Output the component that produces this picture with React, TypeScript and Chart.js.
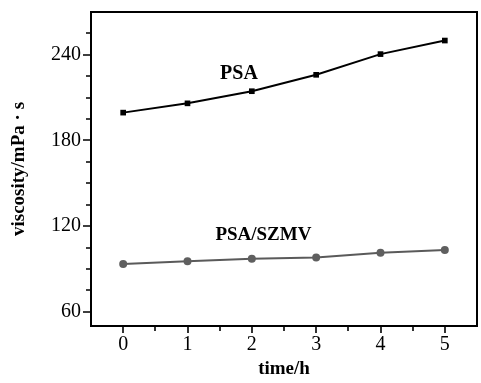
import React, { useEffect, useRef } from "react";
import { Chart, registerables } from "chart.js";

Chart.register(...registerables);

const times = [0, 1, 2, 3, 4, 5];
const psa = [199.5, 206, 214.5, 226, 240.5, 250];
const psaSzmv = [93.5, 95.3, 97.1, 98, 101.3, 103.2];
const seriesNames = ["PSA", "PSA/SZMV"];
const labelX = [1.8, 2.18];
const labelY = [227, 114];
const yTickValues = [60, 75, 90, 105, 120, 135, 150, 165, 180, 195, 210, 225, 240, 255];
const xTickValues = [0, 0.5, 1, 1.5, 2, 2.5, 3, 3.5, 4, 4.5, 5];

const SERIF = '"Liberation Serif", "Times New Roman", serif';

const framePlugin = {
  id: "frame",
  afterDraw(chart: any) {
    const { ctx, chartArea } = chart;
    const xs = chart.scales.x;
    const ys = chart.scales.y;
    ctx.save();
    ctx.strokeStyle = "#000";
    ctx.lineWidth = 2;
    ctx.strokeRect(chartArea.left, chartArea.top, chartArea.right - chartArea.left, chartArea.bottom - chartArea.top);
    ctx.lineWidth = 1.6;
    ctx.beginPath();
    for (const v of yTickValues) {
      const py = Math.round(ys.getPixelForValue(v));
      const len = v % 60 === 0 ? 8 : 5;
      ctx.moveTo(chartArea.left - len, py);
      ctx.lineTo(chartArea.left, py);
    }
    for (const v of xTickValues) {
      const px = Math.round(xs.getPixelForValue(v));
      const len = Number.isInteger(v) ? 7 : 5;
      ctx.moveTo(px, chartArea.bottom);
      ctx.lineTo(px, chartArea.bottom + len);
    }
    ctx.stroke();
    ctx.fillStyle = "#000";
    ctx.textAlign = "center";
    ctx.textBaseline = "middle";
    seriesNames.forEach((n, i) => {
      ctx.font = `bold ${i === 0 ? 20 : 19}px ${SERIF}`;
      ctx.fillText(n, xs.getPixelForValue(labelX[i]), ys.getPixelForValue(labelY[i]));
    });
    ctx.restore();
  },
};

export default function App() {
  const ref = useRef<HTMLCanvasElement>(null);
  useEffect(() => {
    const chart = new Chart(ref.current as HTMLCanvasElement, {
      type: "line",
      data: {
        datasets: [
          {
            label: seriesNames[0],
            data: times.map((t, i) => ({ x: t, y: psa[i] })),
            borderColor: "#000",
            backgroundColor: "#000",
            borderWidth: 2,
            pointStyle: "rect",
            pointRadius: 4,
            pointBorderWidth: 0,
          },
          {
            label: seriesNames[1],
            data: times.map((t, i) => ({ x: t, y: psaSzmv[i] })),
            borderColor: "#5a5a5a",
            backgroundColor: "#5f5f5f",
            borderWidth: 2,
            pointStyle: "circle",
            pointRadius: 4,
            pointBorderWidth: 0,
          },
        ],
      },
      options: {
        animation: false,
        responsive: false,
        maintainAspectRatio: false,
        layout: { padding: { top: 12, right: 0, left: 2, bottom: 0 } },
        plugins: { legend: { display: false }, tooltip: { enabled: false } },
        scales: {
          x: {
            type: "linear",
            min: -0.5,
            max: 5.5,
            grid: { display: false, drawTicks: false, tickLength: 0 },
            border: { display: false },
            afterBuildTicks: (s: any) => {
              s.ticks = xTickValues.map((v) => ({ value: v }));
            },
            afterFit: (s: any) => {
              s.height = 57;
              s.paddingLeft = 0;
              s.paddingRight = 0;
            },
            ticks: {
              autoSkip: false,
              maxRotation: 0,
              padding: 7,
              color: "#000",
              font: { family: SERIF, size: 20 },
              callback: (v: any) => (Number.isInteger(v) ? String(v) : ""),
            },
            title: {
              display: true,
              text: "time/h",
              color: "#000",
              font: { family: SERIF, size: 19, weight: "bold" },
              padding: { top: 0, bottom: 3 },
            },
          },
          y: {
            type: "linear",
            min: 50,
            max: 270,
            grid: { display: false, drawTicks: false, tickLength: 0 },
            border: { display: false },
            afterBuildTicks: (s: any) => {
              s.ticks = yTickValues.map((v) => ({ value: v }));
            },
            afterFit: (s: any) => {
              s.width = 89;
              s.paddingTop = 0;
              s.paddingBottom = 0;
            },
            ticks: {
              autoSkip: false,
              padding: 10,
              color: "#000",
              font: { family: SERIF, size: 20 },
              callback: (v: any) => (v % 60 === 0 ? String(v) : ""),
            },
            title: {
              display: true,
              text: "viscosity/mPa · s",
              color: "#000",
              font: { family: SERIF, size: 19, weight: "bold" },
              padding: { top: 6, bottom: 0 },
            },
          },
        },
      },
      plugins: [framePlugin],
    } as any);
    return () => chart.destroy();
  }, []);
  return (
    <div style={{ position: "fixed", left: 0, top: 0, width: 481, height: 383, background: "#fff" }}>
      <canvas ref={ref} width={481} height={383} style={{ width: 481, height: 383 }} />
    </div>
  );
}
